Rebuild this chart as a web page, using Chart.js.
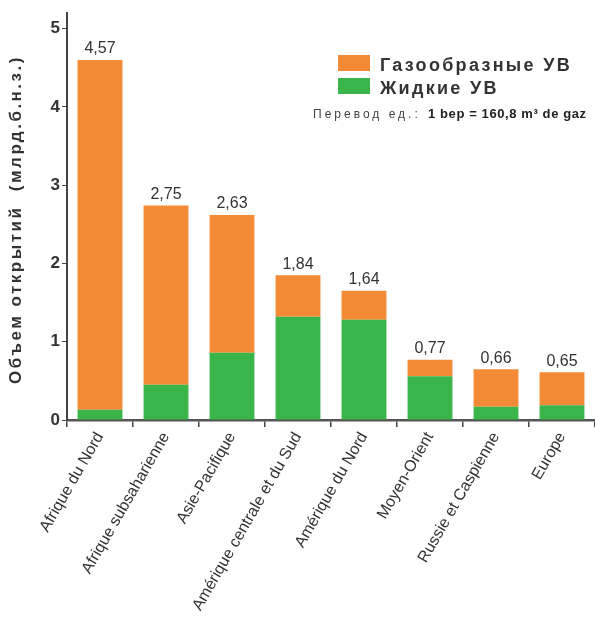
<!DOCTYPE html>
<html>
<head>
<meta charset="utf-8">
<script src="https://cdn.jsdelivr.net/npm/chart.js@4"></script>
<style>
  body { margin: 0; background: #fff; }
  #wrap { width: 595px; height: 622px; position: relative; }
</style>
</head>
<body>
<div id="wrap"><canvas id="c"></canvas></div>
<script>
const regions = ['Afrique du Nord', 'Afrique subsaharienne', 'Asie-Pacifique', 'Amérique centrale et du Sud',
  'Amérique du Nord', 'Moyen-Orient', 'Russie et Caspienne', 'Europe'];
const liquid = [0.13, 0.45, 0.86, 1.32, 1.28, 0.56, 0.17, 0.19];
const gas = [4.47, 2.29, 1.76, 0.53, 0.37, 0.21, 0.48, 0.42];
const totals = ['4,57', '2,75', '2,63', '1,84', '1,64', '0,77', '0,66', '0,65'];
const yTicks = [0, 1, 2, 3, 4, 5];
const yTitle = 'Объем открытий  (млрд.б.н.з.)';

const ORANGE = '#f38a35';
const GREEN = '#3ab54a';
const TXT = '#333';
const FONT = '"Liberation Sans", Arial, sans-serif';

// labels on top, y title (letter-spaced) and the legend box
const extras = {
  id: 'extras',
  afterDatasetsDraw(chart) {
    const ctx = chart.ctx;
    const meta = chart.getDatasetMeta(1);
    const area = chart.chartArea;
    ctx.save();
    ctx.fillStyle = TXT;
    ctx.font = '16px ' + FONT;
    ctx.textAlign = 'center';
    ctx.textBaseline = 'bottom';
    meta.data.forEach((bar, i) => ctx.fillText(totals[i], bar.x, bar.y - 3));

    // y axis title
    ctx.save();
    ctx.translate(16, (area.top + area.bottom) / 2 + 3);
    ctx.rotate(-Math.PI / 2);
    ctx.font = 'bold 17px ' + FONT;
    ctx.letterSpacing = '2.5px';
    ctx.textBaseline = 'middle';
    ctx.fillText(yTitle, 0, 0);
    ctx.restore();

    // legend
    const lx = 338;
    [[ORANGE, 'Газообразные УВ', 55], [GREEN, 'Жидкие УВ', 78]].forEach(([col, txt, y]) => {
      ctx.fillStyle = col;
      ctx.fillRect(lx, y, 32, 16);
      ctx.fillStyle = TXT;
      ctx.font = 'bold 18px ' + FONT;
      ctx.letterSpacing = '2.3px';
      ctx.textAlign = 'left';
      ctx.textBaseline = 'alphabetic';
      ctx.fillText(txt, 380, y + 16);
    });
    ctx.letterSpacing = '3px';
    ctx.font = '12px ' + FONT;
    ctx.fillStyle = '#444';
    ctx.fillText('Перевод ед.:', 313, 118);
    ctx.letterSpacing = '0.6px';
    ctx.font = 'bold 13px ' + FONT;
    ctx.fillStyle = '#222';
    ctx.fillText('1 bep = 160,8 m³ de gaz', 428, 118);
    ctx.restore();
  }
};

new Chart(document.getElementById('c'), {
  type: 'bar',
  data: {
    labels: regions,
    datasets: [
      { label: 'Жидкие УВ', data: liquid, backgroundColor: GREEN },
      { label: 'Газообразные УВ', data: gas, backgroundColor: ORANGE }
    ]
  },
  options: {
    responsive: true,
    maintainAspectRatio: false,
    animation: false,
    layout: { padding: { top: 13, right: 0, left: 0, bottom: 0 } },
    categoryPercentage: 1,
    barPercentage: 0.68,
    plugins: {
      legend: { display: false },
      tooltip: { enabled: false }
    },
    scales: {
      x: {
        stacked: true,
        afterFit: s => { s.height = 202; },
        grid: { drawOnChartArea: false, tickLength: 7, color: '#444', lineWidth: 1.5 },
        border: { color: '#555', width: 2.5 },
        ticks: {
          color: TXT,
          font: { family: FONT, size: 16 },
          maxRotation: 60,
          minRotation: 60,
          padding: 2
        }
      },
      y: {
        stacked: true,
        min: 0,
        max: 5.2,
        afterFit: s => { s.width = 67; },
        afterBuildTicks: s => { s.ticks = yTicks.map(v => ({ value: v })); },
        grid: { drawOnChartArea: false, tickLength: 5, color: '#444' },
        border: { color: '#444', width: 2 },
        ticks: {
          color: TXT,
          padding: 2,
          font: { family: FONT, size: 17, weight: 'bold' }
        }
      }
    }
  },
  plugins: [extras]
});
</script>
</body>
</html>
